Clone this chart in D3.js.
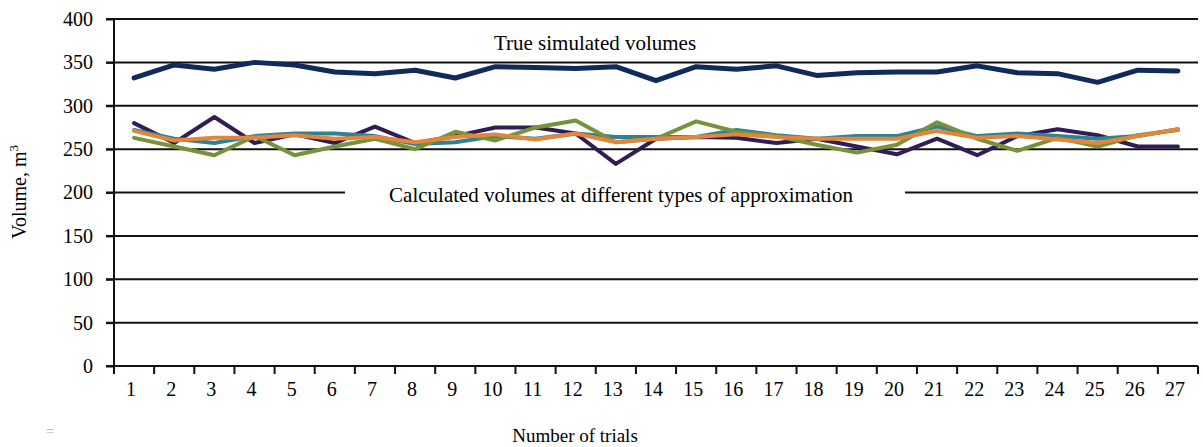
<!DOCTYPE html>
<html><head><meta charset="utf-8">
<script src="https://cdn.jsdelivr.net/npm/d3@7"></script>
<style>body{margin:0;background:#fff}svg{display:block}text{font-family:"Liberation Serif","Times New Roman",serif;fill:#000}</style>
</head><body><svg id="c" width="1203" height="447"></svg>
<script>
const trials = d3.range(1, 28).map(String);
const yTicks = [0, 50, 100, 150, 200, 250, 300, 350, 400];
const trueVolumes = [332,347,342,350,347,339,337,341,332,345,344,343,345,329,345,342,346,335,338,339,339,346,338,337,327,341,340];
const calcPurple  = [280,257,287,257,267,257,276,257,265,275,275,268,233,262,264,263,257,262,253,244,262,243,265,273,266,253,253];
const calcTeal    = [272,262,257,265,268,268,265,256,258,265,262,268,264,264,264,272,266,262,265,265,276,265,268,265,262,265,273];
const calcGreen   = [263,253,243,265,243,253,262,250,270,260,275,283,258,262,282,270,265,255,246,255,281,262,248,263,253,266,272];
const calcOrange  = [271,260,263,263,266,262,264,258,264,267,261,268,258,262,264,267,264,262,262,262,271,263,265,261,257,265,273];
const series = [
  {name:"true", values:trueVolumes, color:"#112a5c", w:5},
  {name:"purple", values:calcPurple, color:"#321c55", w:4},
  {name:"teal", values:calcTeal, color:"#2f8294", w:4},
  {name:"green", values:calcGreen, color:"#76923a", w:4},
  {name:"orange", values:calcOrange, color:"#e3863a", w:4}
];

const svg = d3.select("#c");
const L = 114, R = 1198, T = 19, B = 366;
const x = d3.scaleBand().domain(trials).range([L, R]);
const y = d3.scaleLinear().domain([0, 400]).range([B, T]);

// gridlines
const gap = [345, 905];
yTicks.filter(v => v > 0).forEach(v => {
  const yy = y(v);
  if (v === 200) {
    svg.append("line").attr("x1", L - 8).attr("x2", gap[0]).attr("y1", yy).attr("y2", yy).attr("stroke", "#111").attr("stroke-width", 2);
    svg.append("line").attr("x1", gap[1]).attr("x2", R).attr("y1", yy).attr("y2", yy).attr("stroke", "#111").attr("stroke-width", 2);
  } else {
    svg.append("line").attr("x1", L - 8).attr("x2", R).attr("y1", yy).attr("y2", yy).attr("stroke", "#111").attr("stroke-width", 2);
  }
});

// y axis
const yAxis = svg.append("g").attr("transform", `translate(${L},0)`)
  .call(d3.axisLeft(y).tickValues(yTicks).tickSize(8).tickPadding(13));
yAxis.select(".domain").attr("stroke", "#111").attr("stroke-width", 2).attr("d", `M0,${T}V${B + 8}`);
yAxis.selectAll(".tick line").attr("stroke", "#111").attr("stroke-width", 2);
yAxis.selectAll(".tick text").attr("font-size", 20).attr("font-family", "Liberation Serif").attr("fill", "#000");

// x axis
const xAxis = svg.append("g").attr("transform", `translate(0,${B})`)
  .call(d3.axisBottom(x).tickSize(0).tickPadding(16));
xAxis.select(".domain").attr("stroke", "#111").attr("stroke-width", 2).attr("d", `M${L - 8},0H${R}`);
xAxis.selectAll(".tick text").attr("font-size", 20).attr("font-family", "Liberation Serif").attr("fill", "#000").attr("dx", -3);
// band boundary ticks
const bounds = trials.map(t => x(t)).concat([R]);
svg.append("g").selectAll("line").data(bounds).join("line")
  .attr("x1", d => d).attr("x2", d => d).attr("y1", B).attr("y2", B + 8)
  .attr("stroke", "#111").attr("stroke-width", 2);

// lines
const line = d3.line().x((d, i) => x(trials[i]) + x.bandwidth() / 2).y(d => y(d));
["true", "purple", "teal", "green", "orange"].forEach(n => {
  const s = series.find(s => s.name === n);
  svg.append("path").datum(s.values).attr("d", line).attr("fill", "none")
    .attr("stroke", s.color).attr("stroke-width", s.w)
    .attr("stroke-linejoin", "round").attr("stroke-linecap", "round");
});

// annotations
svg.append("text").attr("x", 595).attr("y", 50).attr("text-anchor", "middle").attr("font-size", 21).text("True simulated volumes");
svg.append("text").attr("x", 621).attr("y", 202).attr("text-anchor", "middle").attr("font-size", 21).text("Calculated volumes at different types of approximation");

// axis titles
svg.append("text").attr("transform", "translate(26,192) rotate(-90)").attr("text-anchor", "middle").attr("font-size", 20)
  .html('Volume, m<tspan dy="-8" font-size="13">3</tspan>');
svg.append("text").attr("x", 575).attr("y", 442).attr("text-anchor", "middle").attr("font-size", 19).text("Number of trials");
svg.append("text").attr("x", 50).attr("y", 436).attr("text-anchor", "middle").attr("font-size", 14).style("fill", "#aaa").text("=");
</script></body></html>
